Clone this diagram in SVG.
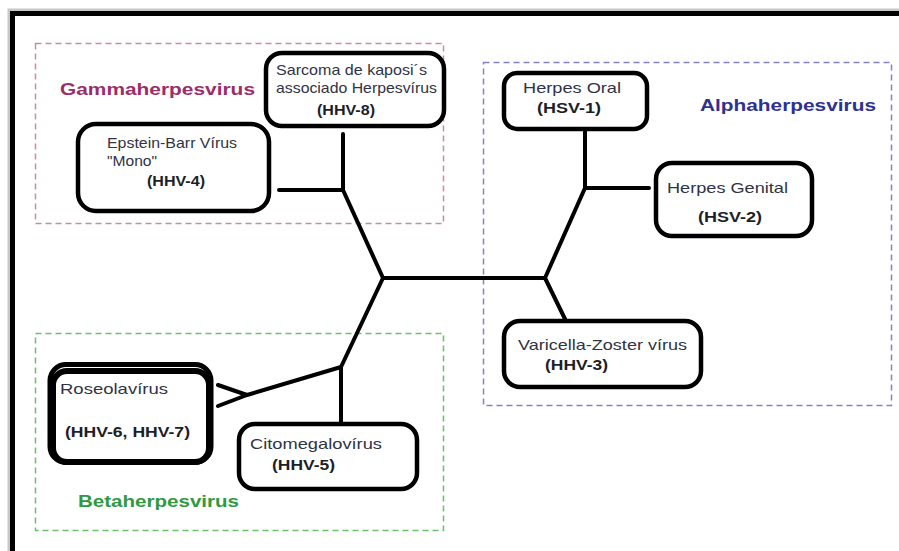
<svg xmlns="http://www.w3.org/2000/svg" width="899" height="551" viewBox="0 0 899 551">
<style>
.grp{fill:none;stroke-width:1.5;stroke-dasharray:6,4}
.node{fill:#fff;stroke:#000;stroke-width:4.5}
.t{font-family:"Liberation Sans",Arial,sans-serif;font-size:15px;fill:#2f3345}
.b{font-family:"Liberation Sans",Arial,sans-serif;font-size:14px;font-weight:bold;fill:#1e1e28}
.g{font-family:"Liberation Sans",Arial,sans-serif;font-size:17px;font-weight:bold}
.c{fill:none;stroke:#000;stroke-width:4;stroke-linecap:round;stroke-linejoin:round}
</style>
<rect width="899" height="551" fill="#fff"/>
<path d="M9,551 V10 H899" fill="none" stroke="#c8c8c8" stroke-width="3"/>
<path d="M12.5,551 V13.5 H899" fill="none" stroke="#000" stroke-width="5"/>

<g id="group-gamma">
<rect class="grp" x="35.5" y="43.5" width="408" height="180" stroke="#c98aa8"/>
<text class="g" x="60" y="95" fill="#9b2d68" textLength="195" lengthAdjust="spacingAndGlyphs">Gammaherpesvirus</text>
</g>
<g id="group-alpha">
<rect class="grp" x="483.5" y="62.5" width="408" height="343" stroke="#8282c8"/>
<text class="g" x="700" y="111" fill="#2e3190" textLength="176" lengthAdjust="spacingAndGlyphs">Alphaherpesvirus</text>
</g>
<g id="group-beta">
<rect class="grp" x="35.5" y="333.5" width="408" height="197" stroke="#6cc06c"/>
<text class="g" x="78" y="507" fill="#2f9a42" textLength="161" lengthAdjust="spacingAndGlyphs">Betaherpesvirus</text>
</g>

<g id="connectors">
<path class="c" d="M343,134 V190 M279,190 H343 L383,278 H545 M383,278 L341,367 V424 M341,367 L247,395 L218,385 M247,395 L218,406 M545,278 L585,188 V131 M585,188 H649 M545,278 L565,319"/>
</g>

<g id="node-hhv8">
<rect class="node" x="266" y="53" width="178" height="73" rx="16"/>
<text class="t" x="276" y="75" textLength="151" lengthAdjust="spacingAndGlyphs">Sarcoma de kaposi´s</text>
<text class="t" x="276" y="93" textLength="161" lengthAdjust="spacingAndGlyphs">associado Herpesvírus</text>
<text class="b" x="317" y="115" textLength="58" lengthAdjust="spacingAndGlyphs">(HHV-8)</text>
</g>
<g id="node-hhv4">
<rect class="node" x="78" y="124" width="191" height="87" rx="18"/>
<text class="t" x="107" y="148" textLength="130" lengthAdjust="spacingAndGlyphs">Epstein-Barr Vírus</text>
<text class="t" x="107" y="166" textLength="50" lengthAdjust="spacingAndGlyphs">"Mono"</text>
<text class="b" x="147" y="186" textLength="58" lengthAdjust="spacingAndGlyphs">(HHV-4)</text>
</g>
<g id="node-hsv1">
<rect class="node" x="504" y="73" width="143" height="56" rx="13"/>
<text class="t" x="523" y="93" textLength="98" lengthAdjust="spacingAndGlyphs">Herpes Oral</text>
<text class="b" x="537" y="113" textLength="64" lengthAdjust="spacingAndGlyphs">(HSV-1)</text>
</g>
<g id="node-hsv2">
<rect class="node" x="656" y="163" width="156" height="73" rx="16"/>
<text class="t" x="667" y="193" textLength="121" lengthAdjust="spacingAndGlyphs">Herpes Genital</text>
<text class="b" x="698" y="222" textLength="64" lengthAdjust="spacingAndGlyphs">(HSV-2)</text>
</g>
<g id="node-hhv3">
<rect class="node" x="504" y="321" width="197" height="66" rx="16"/>
<text class="t" x="518" y="350" textLength="169" lengthAdjust="spacingAndGlyphs">Varicella-Zoster vírus</text>
<text class="b" x="545" y="370" textLength="63" lengthAdjust="spacingAndGlyphs">(HHV-3)</text>
</g>
<g id="node-hhv67">
<rect x="50" y="364.5" width="161" height="98" rx="16" fill="#fff" stroke="#000" stroke-width="5"/>
<rect x="53" y="371" width="156" height="91" rx="14" fill="#fff" stroke="#000" stroke-width="6"/>
<text class="t" x="60" y="394" textLength="108" lengthAdjust="spacingAndGlyphs">Roseolavírus</text>
<text class="b" x="65" y="437" textLength="125" lengthAdjust="spacingAndGlyphs">(HHV-6, HHV-7)</text>
</g>
<g id="node-hhv5">
<rect class="node" x="239" y="424" width="178" height="65" rx="16"/>
<text class="t" x="250" y="449" textLength="132" lengthAdjust="spacingAndGlyphs">Citomegalovírus</text>
<text class="b" x="272" y="470" textLength="63" lengthAdjust="spacingAndGlyphs">(HHV-5)</text>
</g>
</svg>
